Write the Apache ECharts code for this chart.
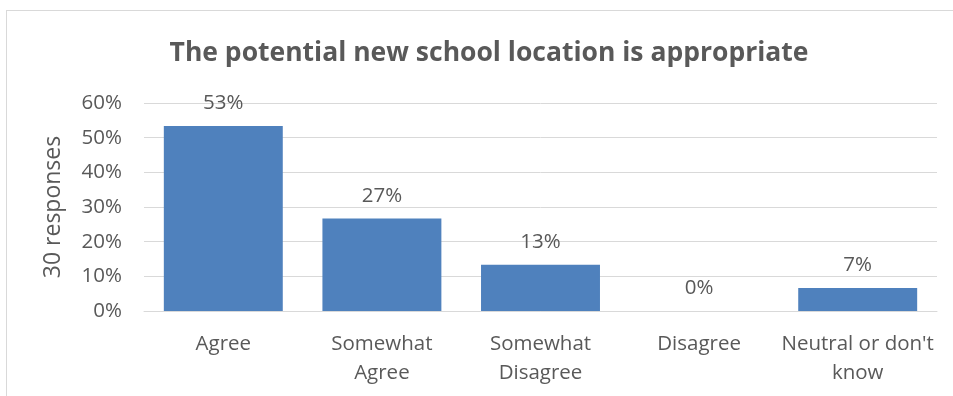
<!DOCTYPE html>
<html>
<head>
<meta charset="utf-8">
<script src="https://cdn.jsdelivr.net/npm/echarts@6/dist/echarts.min.js"></script>
<style>
  html, body { margin: 0; padding: 0; background: #fff; }
  #frame { position: absolute; left: 6px; top: 10px; width: 947px; height: 386px;
           border-left: 1px solid #d9d9d9; border-top: 1px solid #d9d9d9; box-sizing: border-box; }
  #chart { width: 953px; height: 396px; position: absolute; left: 0; top: 0; }
</style>
</head>
<body>
<div id="frame"></div>
<div id="chart"></div>
<script>
const titleText = 'The potential new school location is appropriate';
const categories = ['Agree', 'Somewhat\nAgree', 'Somewhat\nDisagree', 'Disagree', "Neutral or don't\nknow"];
const responseCounts = [16, 8, 4, 0, 2];
const totalResponses = 30;
const shares = responseCounts.map(c => c / totalResponses * 100);
const yAxisName = totalResponses + ' responses';

const font = 'Open Sans, Liberation Sans, sans-serif';
const textColor = '#595959';

const chart = echarts.init(document.getElementById('chart'));
chart.setOption({
  animation: false,
  backgroundColor: 'transparent',
  title: {
    text: titleText,
    left: 484, top: 35, textAlign: 'center',
    textStyle: { fontFamily: font, fontSize: 26.5, fontWeight: 'bold', color: textColor }
  },
  grid: { left: 144, right: 16, top: 103, bottom: 85 },
  xAxis: {
    type: 'category',
    data: categories,
    axisLine: { show: true, lineStyle: { color: '#d9d9d9', width: 1 } },
    axisTick: { show: false },
    axisLabel: { fontFamily: font, fontSize: 20.5, color: textColor, lineHeight: 29, margin: 19, interval: 0 }
  },
  yAxis: {
    type: 'value',
    min: 0, max: 60, interval: 10,
    name: yAxisName,
    nameLocation: 'middle',
    nameGap: 79,
    nameTextStyle: { fontFamily: font, fontSize: 23, color: textColor },
    axisLine: { show: false },
    axisTick: { show: false },
    axisLabel: { fontFamily: font, fontSize: 20.5, color: textColor, margin: 22, formatter: v => v + '%' },
    splitLine: { lineStyle: { color: '#d9d9d9', width: 1 } }
  },
  series: [{
    type: 'bar',
    data: shares,
    barCategoryGap: '25%',
    itemStyle: { color: '#4f81bd' },
    label: {
      show: true, position: 'top', distance: 12,
      fontFamily: font, fontSize: 20.5, color: textColor,
      formatter: p => Math.round(p.value) + '%'
    }
  }]
});
</script>
</body>
</html>
